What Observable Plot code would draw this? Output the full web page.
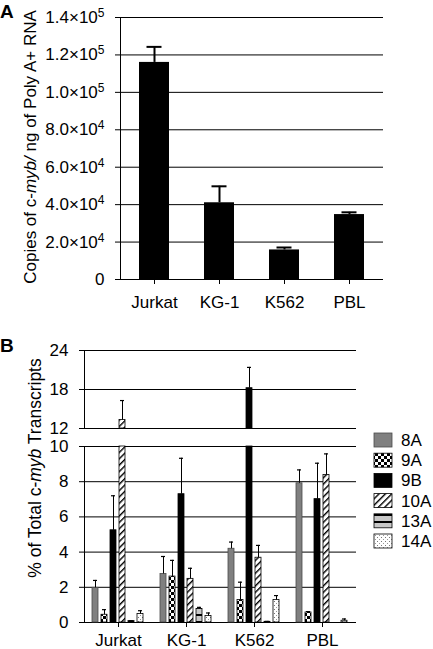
<!DOCTYPE html>
<html><head><meta charset="utf-8">
<script src="https://cdn.jsdelivr.net/npm/d3@7"></script>
<script src="https://cdn.jsdelivr.net/npm/@observablehq/plot@0.6"></script>
<style>
html,body{margin:0;padding:0;background:#fff;}
#wrap{position:relative;width:433px;height:649px;overflow:hidden;font-family:"Liberation Sans",Arial,sans-serif;}
#wrap > svg{position:absolute;left:0;}
#wrap > svg.pl text{font-size:17px;font-family:"Liberation Sans",Arial,sans-serif;fill:#000;}
</style></head><body><div id="wrap"></div>
<script>
// ---------- Panel A data ----------
const cellLines = ["Jurkat", "KG-1", "K562", "PBL"];
const copies = [116000, 41000, 15800, 34700];
const copiesErr = [8300, 8800, 1300, 1200];
const yTicksA = [0, 20000, 40000, 60000, 80000, 100000, 120000, 140000];

// ---------- Panel B data ----------
const isoforms = ["8A", "9A", "9B", "10A", "13A", "14A"];
const pctJurkat = [1.97, 0.44, 5.24, 13.3, 0.08, 0.48];
const errJurkat = [0.42, 0.29, 1.96, 3.0, 0.02, 0.19];
const pctKG1 = [2.76, 2.61, 7.29, 2.48, 0.77, 0.37];
const errKG1 = [0.99, 0.92, 2.04, 0.6, 0.09, 0.17];
const pctK562 = [4.19, 1.28, 18.2, 3.68, 0.04, 1.28];
const errK562 = [0.38, 1.01, 3.2, 0.7, 0.02, 0.25];
const pctPBL = [7.91, 0.57, 7.01, 8.38, 0, 0.1];
const errPBL = [0.76, 0.05, 2.04, 1.2, 0, 0.1];
const yTicksUpper = [12, 18, 24];
const yTicksLower = [0, 2, 4, 6, 8, 10];

// ---------- styles ----------
const isoFill = ["#808080", "url(#p9A)", "#000000", "url(#p10A)", "url(#p13A)", "url(#p14A)"];
const isoStroke = ["#4a4a4a", "#000", "#000", "#000", "#000", "#000"];
const FONT = '"Liberation Sans", Arial, sans-serif';
const baseStyle = {fontFamily: FONT, fontSize: "17px", background: "none", overflow: "visible", color: "#000"};

const ns = "http://www.w3.org/2000/svg";
const wrap = document.getElementById("wrap");

// ---------- build tables ----------
const dataA = cellLines.map((c, i) => ({cell: c, value: copies[i], top: copies[i] + copiesErr[i]}));
const pctBy = [pctJurkat, pctKG1, pctK562, pctPBL];
const errBy = [errJurkat, errKG1, errK562, errPBL];
const table = [];
cellLines.forEach((c, i) => isoforms.forEach((iso, j) => {
  table.push({cell: c, iso, value: pctBy[i][j], err: errBy[i][j], top: pctBy[i][j] + errBy[i][j],
    fill: isoFill[j], stroke: isoStroke[j]});
}));

// ---------- overlay (defs, titles, legend) ----------
const over = d3.create("svg").attr("width", 433).attr("height", 649)
  .style("top", "0px").style("pointer-events", "none").style("font-family", FONT);
const defs = over.append("defs");
const p9 = defs.append("pattern").attr("id", "p9A").attr("patternUnits", "userSpaceOnUse").attr("width", 6).attr("height", 6);
p9.append("rect").attr("width", 6).attr("height", 6).attr("fill", "#fff");
p9.append("rect").attr("width", 3).attr("height", 3).attr("fill", "#000");
p9.append("rect").attr("x", 3).attr("y", 3).attr("width", 3).attr("height", 3).attr("fill", "#000");
const p10 = defs.append("pattern").attr("id", "p10A").attr("patternUnits", "userSpaceOnUse").attr("width", 4.5).attr("height", 4.5).attr("patternTransform", "rotate(45)");
p10.append("rect").attr("width", 4.5).attr("height", 4.5).attr("fill", "#fff");
p10.append("rect").attr("width", 1.4).attr("height", 4.5).attr("fill", "#000");
const p13 = defs.append("pattern").attr("id", "p13A").attr("patternUnits", "userSpaceOnUse").attr("width", 4).attr("height", 7);
p13.append("rect").attr("width", 4).attr("height", 7).attr("fill", "#c8c8c8");
p13.append("rect").attr("y", 3).attr("width", 4).attr("height", 2).attr("fill", "#000");
const p14 = defs.append("pattern").attr("id", "p14A").attr("patternUnits", "userSpaceOnUse").attr("width", 4).attr("height", 4);
p14.append("rect").attr("width", 4).attr("height", 4).attr("fill", "#fff");
p14.append("rect").attr("x", 1).attr("y", 1).attr("width", 1).attr("height", 1).attr("fill", "#777");
p14.append("rect").attr("x", 3).attr("y", 3).attr("width", 1).attr("height", 1).attr("fill", "#999");

// ---------- Panel A ----------
function sci(d) {
  if (d === 0) return "0";
  const e = Math.floor(Math.log10(d) + 1e-9);
  return (d / Math.pow(10, e)).toFixed(1) + "×10^" + e;
}
const svgA = Plot.plot({
  width: 433, height: 310,
  marginLeft: 120, marginRight: 50, marginTop: 17, marginBottom: 31,
  style: baseStyle,
  x: {domain: cellLines, paddingInner: 0.54, paddingOuter: 0.27, tickSize: 5, tickPadding: 11, label: null},
  y: {domain: [0, 140000], ticks: yTicksA, tickFormat: sci, tickSize: 5, tickPadding: 11, line: true, label: null},
  marks: [
    Plot.ruleY(yTicksA, {stroke: "#000", strokeWidth: 1}),
    Plot.barY(dataA, {x: "cell", y: "value", fill: "#000"}),
    Plot.ruleX(dataA, {x: "cell", y1: "value", y2: "top", stroke: "#000", strokeWidth: 2}),
    Plot.tickY(dataA, {x: "cell", y: "top", stroke: "#000", strokeWidth: 2, insetLeft: 7.5, insetRight: 7.5})
  ]
});
svgA.style.top = "0px";
svgA.classList.add("pl");
svgA.querySelectorAll("text").forEach(t => {
  const s = t.textContent;
  if (s.includes("^")) {
    const [m, e] = s.split("^");
    t.textContent = m;
    const ts = document.createElementNS(ns, "tspan");
    ts.setAttribute("dy", "-6");
    ts.setAttribute("style", "font-size:12px");
    ts.textContent = e;
    t.appendChild(ts);
  }
});
wrap.appendChild(svgA);

// ---------- Panel B ----------
const commonB = {
  width: 433, marginLeft: 83, marginRight: 77,
  style: baseStyle,
  facet: {data: table, x: "cell"},
  x: {domain: isoforms, paddingInner: 0.3, paddingOuter: 0.63, axis: null},
  color: {type: "identity"}
};
const barOpts = {x: "iso", y: "value", fill: "fill", stroke: "stroke", strokeWidth: 0.8};

const svgUp = Plot.plot({
  ...commonB,
  height: 88, marginTop: 10, marginBottom: 0,
  fx: {domain: cellLines, padding: 0, axis: null},
  y: {domain: [12, 24], clamp: true, ticks: yTicksUpper, tickSize: 5, tickPadding: 11, line: true, label: null},
  marks: [
    Plot.ruleY(yTicksUpper, {stroke: "#000"}),
    Plot.barY(table, {...barOpts, filter: d => d.value > 12}),
    Plot.ruleX(table, {x: "iso", y1: "value", y2: "top", stroke: "#000", strokeWidth: 1, filter: d => d.top > 12 && d.err > 0}),
    Plot.tickY(table, {x: "iso", y: "top", stroke: "#000", strokeWidth: 1.2, insetLeft: 1, insetRight: 1, filter: d => d.top > 12 && d.err > 0})
  ]
});
svgUp.style.top = "340px";
svgUp.classList.add("pl");
wrap.appendChild(svgUp);

const svgLow = Plot.plot({
  ...commonB,
  height: 213, marginTop: 10, marginBottom: 27,
  fx: {domain: cellLines, padding: 0, axis: "bottom", tickSize: 5, tickPadding: 6, label: null},
  y: {domain: [0, 10], clamp: true, ticks: yTicksLower, tickSize: 5, tickPadding: 11, line: true, label: null},
  marks: [
    Plot.ruleY(yTicksLower, {stroke: "#000"}),
    Plot.barY(table, {...barOpts, filter: d => d.value > 0}),
    Plot.ruleX(table, {x: "iso", y1: "value", y2: "top", stroke: "#000", strokeWidth: 1, filter: d => d.value < 10 && d.err > 0}),
    Plot.tickY(table, {x: "iso", y: "top", stroke: "#000", strokeWidth: 1.2, insetLeft: 1, insetRight: 1, filter: d => d.top <= 10 && d.err > 0})
  ]
});
svgLow.style.top = "436px";
svgLow.classList.add("pl");
wrap.appendChild(svgLow);

// ---------- titles ----------
over.append("text").attr("x", 0).attr("y", 18).attr("font-size", 19).attr("font-weight", "bold").text("A");
over.append("text").attr("x", 0).attr("y", 352).attr("font-size", 19).attr("font-weight", "bold").text("B");

const tA = over.append("text").attr("transform", "translate(36,147) rotate(-90)")
  .attr("text-anchor", "middle").attr("font-size", 17);
tA.append("tspan").text("Copies of c-");
tA.append("tspan").attr("font-style", "italic").text("myb/");
tA.append("tspan").text(" ng of Poly A+ RNA");

const tB = over.append("text").attr("transform", "translate(40.5,468) rotate(-90)")
  .attr("text-anchor", "middle").attr("font-size", 17.5);
tB.append("tspan").text("% of Total c-");
tB.append("tspan").attr("font-style", "italic").text("myb");
tB.append("tspan").text(" Transcripts");

// ---------- legend ----------
const leg = over.append("g");
isoforms.forEach((iso, i) => {
  const cy = 440 + i * 20.2;
  leg.append("rect").attr("x", 374).attr("y", cy - 7).attr("width", 18).attr("height", 14)
    .attr("fill", isoFill[i]).attr("stroke", isoStroke[i]).attr("stroke-width", 0.8);
  leg.append("text").attr("x", 401).attr("y", cy + 6).attr("font-size", 17).text(iso);
});

wrap.appendChild(over.node());
</script>
</body></html>
